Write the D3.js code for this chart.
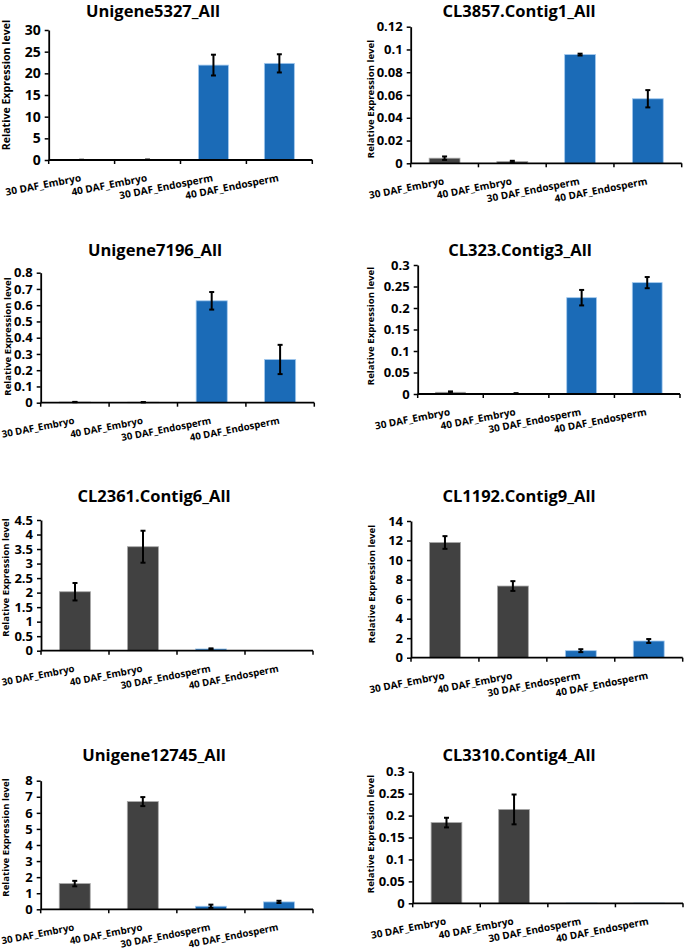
<!DOCTYPE html>
<html>
<head>
<meta charset="utf-8">
<script src="https://cdn.jsdelivr.net/npm/d3@7/dist/d3.min.js"></script>
<style>
  html, body { margin: 0; padding: 0; background: #fff; }
  svg { display: block; font-family: "Open Sans", Lato, sans-serif; font-weight: bold; }
</style>
</head>
<body>
<svg id="chart" width="685" height="950"></svg>
<script>
// ---------------- data ----------------
const categories = ["30 DAF_Embryo", "40 DAF_Embryo", "30 DAF_Endosperm", "40 DAF_Endosperm"];
const tissues = ["Embryo", "Embryo", "Endosperm", "Endosperm"];
const genes = [
  "Unigene5327_All", "CL3857.Contig1_All",
  "Unigene7196_All", "CL323.Contig3_All",
  "CL2361.Contig6_All", "CL1192.Contig9_All",
  "Unigene12745_All", "CL3310.Contig4_All"
];
const means = [
  [0.03, 0.06, 21.9, 22.3],
  [0.0045, 0.0015, 0.0955, 0.0567],
  [0.004, 0.003, 0.627, 0.266],
  [0.004, 0.001, 0.224, 0.259],
  [2.03, 3.58, 0.06, 0.01],
  [11.8, 7.34, 0.72, 1.71],
  [1.6, 6.7, 0.19, 0.46],
  [0.184, 0.214, 0.0005, 0.0005]
];
const errors = [
  [0.01, 0.02, 2.4, 2.1],
  [0.0015, 0.0007, 0.0008, 0.0076],
  [0.001, 0.001, 0.054, 0.09],
  [0.002, 0.001, 0.018, 0.013],
  [0.3, 0.55, 0.02, 0],
  [0.65, 0.5, 0.15, 0.2],
  [0.17, 0.28, 0.1, 0.07],
  [0.011, 0.034, 0, 0]
];
const yMax = [30, 0.12, 0.8, 0.3, 4.5, 14, 8, 0.3];
const yStep = [5, 0.02, 0.1, 0.05, 0.5, 2, 1, 0.05];
const yLabel = "Relative Expression level";

// ---------------- layout ----------------
const layout = [
  {ax: 48.7,  ex: 312.3, top: 30,    bot: 160,   tx: 153, ty: 17,    lx: 6,   ly: 85,    lfs: 10.6, tfs: 14, xfs: 10.1},
  {ax: 410.7, ex: 681.7, top: 26.7,  bot: 163.3, tx: 519, ty: 17,    lx: 370, ly: 99,    lfs: 9.6,  tfs: 13, xfs: 10},
  {ax: 40.7,  ex: 314.3, top: 272.7, bot: 402.7, tx: 155, ty: 256,   lx: 7,   ly: 336.5, lfs: 9.6,  tfs: 13, xfs: 9.7},
  {ax: 417.7, ex: 680,   top: 265,   bot: 394,   tx: 520, ty: 256,   lx: 370, ly: 326,   lfs: 9.6,  tfs: 13, xfs: 10},
  {ax: 41,    ex: 313,   top: 520,   bot: 650.7, tx: 154, ty: 501.7, lx: 5,   ly: 577.5, lfs: 9.6,  tfs: 13, xfs: 9.7},
  {ax: 411,   ex: 682.7, top: 521,   bot: 657.7, tx: 519, ty: 501.7, lx: 371, ly: 584,   lfs: 9.6,  tfs: 13, xfs: 10},
  {ax: 40.7,  ex: 313,   top: 780.7, bot: 909.3, tx: 154, ty: 761,   lx: 5,   ly: 837.5, lfs: 9.6,  tfs: 13, xfs: 9.7},
  {ax: 412.7, ex: 683,   top: 771.7, bot: 903.3, tx: 519, ty: 761,   lx: 370, ly: 834,   lfs: 9.6,  tfs: 13, xfs: 10}
];
const colors = {Embryo: "#414141", Endosperm: "#1b6bb7"};
const borders = {Embryo: "#a8a8a8", Endosperm: "#a3c9ee"};

const svg = d3.select("#chart");

function fmt(v) { return String(+v.toFixed(4)); }

genes.forEach((gene, i) => {
  const L = layout[i];
  const g = svg.append("g");

  const x = d3.scaleBand().domain(categories).range([L.ax, L.ex])
    .paddingInner(0.545).paddingOuter(0.2725);
  const y = d3.scaleLinear().domain([0, yMax[i]]).range([L.bot, L.top]);
  const ticks = d3.range(0, yMax[i] + yStep[i] / 2, yStep[i]);

  // bars
  const rows = categories.map((c, k) => ({c, t: tissues[k], v: means[i][k], e: errors[i][k]}));
  g.selectAll("rect.bar").data(rows).join("rect")
    .attr("x", d => x(d.c))
    .attr("width", x.bandwidth())
    .attr("y", d => y(d.v))
    .attr("height", d => y(0) - y(d.v))
    .attr("fill", d => colors[d.t])
    .attr("stroke", d => borders[d.t])
    .attr("stroke-width", 0.8);

  // error bars
  const eb = g.selectAll("g.err").data(rows.filter(d => d.e > 0)).join("g")
    .attr("stroke", "#000").attr("stroke-width", 2);
  eb.append("line")
    .attr("x1", d => x(d.c) + x.bandwidth() / 2).attr("x2", d => x(d.c) + x.bandwidth() / 2)
    .attr("y1", d => y(d.v + d.e)).attr("y2", d => y(d.v - d.e));
  [1, -1].forEach(s => {
    eb.append("line")
      .attr("x1", d => x(d.c) + x.bandwidth() / 2 - 2.5).attr("x2", d => x(d.c) + x.bandwidth() / 2 + 2.5)
      .attr("y1", d => y(d.v + s * d.e)).attr("y2", d => y(d.v + s * d.e));
  });

  // y axis
  const yAxis = d3.axisLeft(y).tickValues(ticks).tickFormat(fmt).tickSizeInner(4).tickSizeOuter(0).tickPadding(4);
  const ya = g.append("g").attr("transform", `translate(${L.ax},0)`).call(yAxis);
  ya.select(".domain").attr("stroke", "#000").attr("stroke-width", 1.8);
  ya.selectAll(".tick line").attr("stroke", "#000").attr("stroke-width", 1.5);
  ya.selectAll(".tick text").attr("font-size", L.tfs).attr("font-family", "Open Sans").attr("font-weight", "bold").attr("fill", "#000");

  // x axis: baseline + boundary ticks
  const step = x.step();
  const bounds = d3.range(categories.length + 1).map(k => L.ax + k * step);
  g.append("line").attr("x1", L.ax).attr("x2", L.ex).attr("y1", L.bot).attr("y2", L.bot)
    .attr("stroke", "#000").attr("stroke-width", 1.8);
  g.selectAll("line.xt").data(bounds).join("line")
    .attr("x1", d => d).attr("x2", d => d).attr("y1", L.bot).attr("y2", L.bot + 4)
    .attr("stroke", "#000").attr("stroke-width", 1.5);

  // x labels
  g.selectAll("text.xl").data(categories).join("text")
    .attr("transform", d => `translate(${x(d) + x.bandwidth() / 2},${L.bot + 21}) rotate(-11)`)
    .attr("text-anchor", "end")
    .attr("font-size", L.xfs)
    .attr("fill", "#000")
    .text(d => d);

  // y label
  g.append("text")
    .attr("transform", `translate(${L.lx},${L.ly}) rotate(-90)`)
    .attr("text-anchor", "middle")
    .attr("dominant-baseline", "central")
    .attr("font-size", L.lfs)
    .attr("fill", "#000")
    .text(yLabel);

  // title
  g.append("text")
    .attr("x", L.tx).attr("y", L.ty)
    .attr("text-anchor", "middle")
    .attr("font-size", 16.5)
    .attr("fill", "#000")
    .text(gene);
});
</script>
</body>
</html>
